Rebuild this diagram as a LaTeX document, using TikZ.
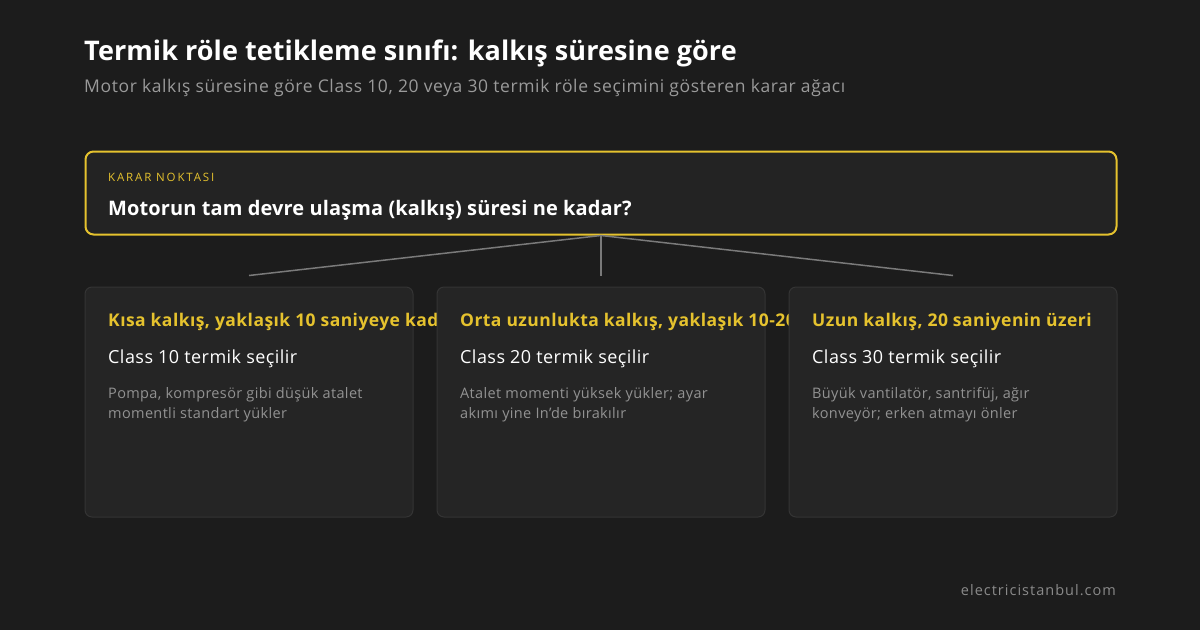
\documentclass[tikz,border=0pt]{standalone}
\usepackage{fontspec}
\setmainfont[LetterSpace=2.5]{Open Sans}
\usetikzlibrary{calc}
\definecolor{bgc}{HTML}{1C1C1C}
\definecolor{boxc}{HTML}{232323}
\definecolor{cardc}{HTML}{252525}
\definecolor{cardb}{HTML}{343434}
\definecolor{ylw}{HTML}{E5C22E}
\definecolor{subc}{HTML}{9A9A9A}
\definecolor{descc}{HTML}{929292}
\definecolor{linec}{HTML}{7A7A7A}
\definecolor{footc}{HTML}{8A8A8A}
\tikzset{
  card/.style={draw=cardb, line width=1pt, fill=cardc, rounded corners=7pt, minimum width=328pt, minimum height=230pt, anchor=north west, inner sep=0pt},
  txt/.style={anchor=base west, inner sep=0pt},
  ctitle/.style={txt, text=ylw, font=\fontsize{17.5}{20}\selectfont\bfseries},
  cclass/.style={txt, text=white, font=\fontsize{18}{20}\selectfont},
  cdesc/.style={txt, text=descc, font=\fontsize{14.5}{20}\selectfont, align=left},
  conn/.style={draw=linec, line width=1.5pt},
}
\begin{document}
\begin{tikzpicture}[x=1pt,y=-1pt]
\fill[bgc] (0,0) rectangle (1200,630);
\useasboundingbox (0,0) rectangle (1200,630);
\node[txt, text=white, font=\fontsize{27}{32}\selectfont\bfseries\addfontfeature{LetterSpace=0.3}] (title) at (84,60) {Termik röle tetikleme sınıfı: kalkış süresine göre};
\node[txt, text=subc, font=\fontsize{17.5}{20}\selectfont\addfontfeature{LetterSpace=3.5}] (sub) at (84,92) {Motor kalkış süresine göre Class 10, 20 veya 30 termik röle seçimini gösteren karar ağacı};
% decision box
\node[draw=ylw, line width=2pt, fill=boxc, rounded corners=8pt, minimum width=1031pt, minimum height=83pt, anchor=north west, inner sep=0pt] (q) at (84.5,150.5) {};
\node[txt, text=ylw, font=\fontsize{11.5}{13}\selectfont\addfontfeature{LetterSpace=16}] (ql) at (108,181) {KARAR NOKTASI};
\node[txt, text=white, font=\fontsize{20}{24}\selectfont\bfseries\addfontfeature{LetterSpace=0.6}] (qt) at (108,215) {Motorun tam devre ulaşma (kalkış) süresi ne kadar?};
% cards
\node[card] (c1) at (84.5,286.5) {};
\begin{scope}
\clip (84,280) rectangle (436,520);
\node[ctitle] (c1t) at (108,326) {Kısa kalkış, yaklaşık 10 saniyeye kadar};
\end{scope}
\node[cclass] (c1c) at (108,363) {Class 10 termik seçilir};
\node[cdesc] (c1d) at (108,418) {Pompa, kompresör gibi düşük atalet\\momentli standart yükler};
\node[card] (c2) at (436.5,286.5) {};
\begin{scope}
\clip (436,280) rectangle (788,520);
\node[ctitle] (c2t) at (460,326) {Orta uzunlukta kalkış, yaklaşık 10-20 saniye};
\end{scope}
\node[cclass] (c2c) at (460,363) {Class 20 termik seçilir};
\node[cdesc] (c2d) at (460,418) {Atalet momenti yüksek yükler; ayar\\akımı yine In'de bırakılır};
\node[card] (c3) at (788.5,286.5) {};
\node[ctitle] (c3t) at (812,326) {Uzun kalkış, 20 saniyenin üzeri};
\node[cclass] (c3c) at (812,363) {Class 30 termik seçilir};
\node[cdesc] (c3d) at (812,418) {Büyük vantilatör, santrifüj, ağır\\konveyör; erken atmayı önler};
% connectors
\coordinate (e1) at ($(c1.north)+(0,-11)$);
\coordinate (e2) at ($(c2.north)+(0,-11)$);
\coordinate (e3) at ($(c3.north)+(0,-11)$);
\draw[conn] (q.south) -- (e1);
\draw[conn] (q.south) -- (e2);
\draw[conn] (q.south) -- (e3);
\node[anchor=base east, inner sep=0pt, text=footc, font=\fontsize{14.5}{16}\selectfont\addfontfeature{LetterSpace=7}] (foot) at (1116,595) {electricistanbul.com};
\end{tikzpicture}
\end{document}
